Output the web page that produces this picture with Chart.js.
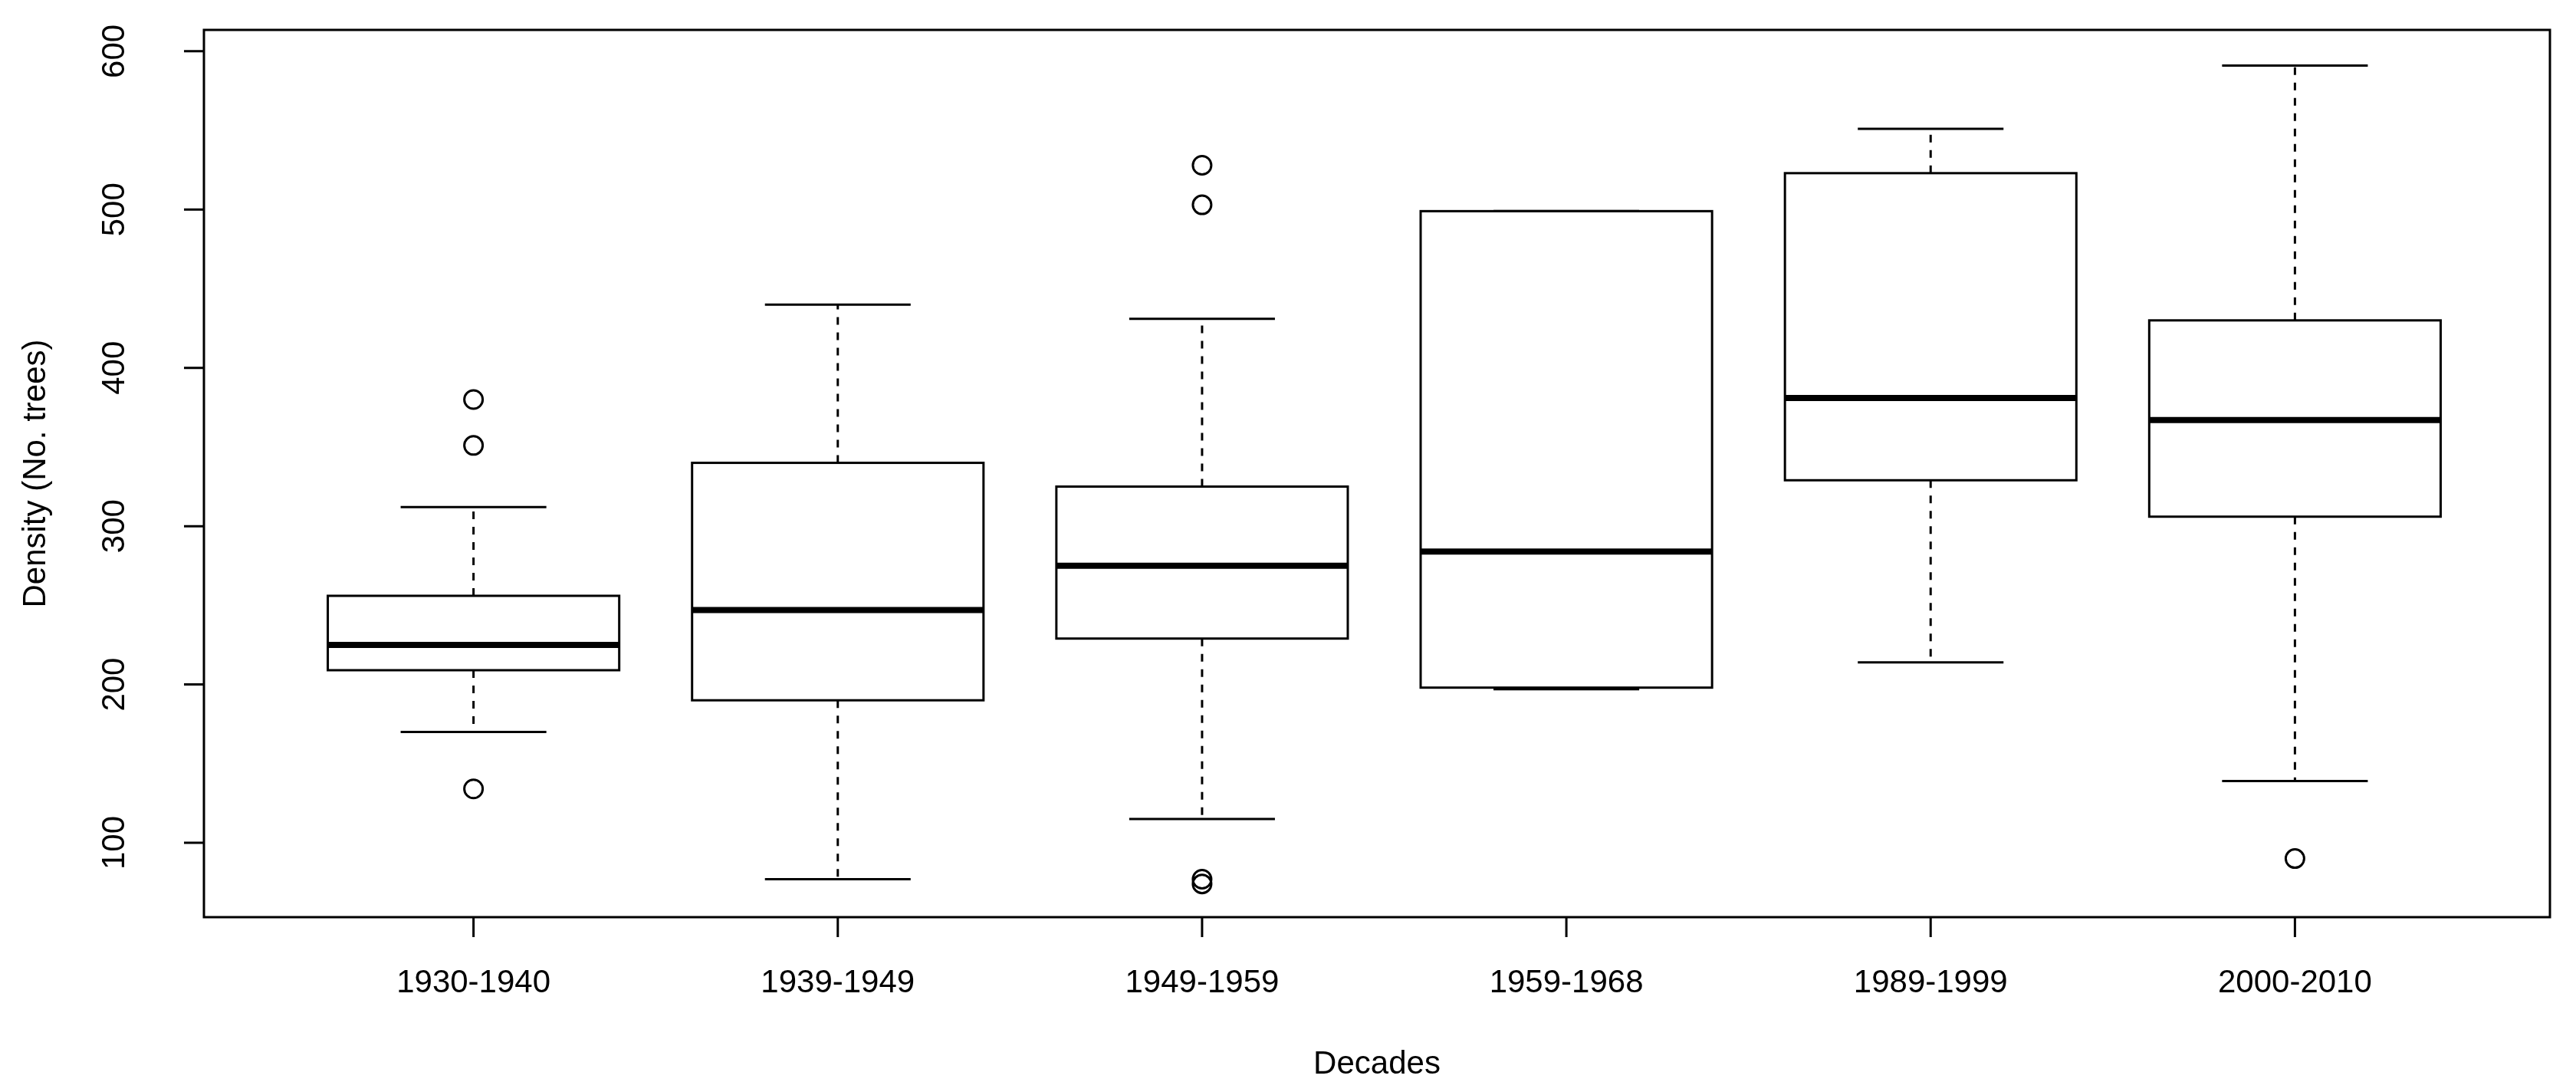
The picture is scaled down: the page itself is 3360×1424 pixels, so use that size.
<!DOCTYPE html>
<html>
<head>
<meta charset="utf-8">
<script src="https://cdn.jsdelivr.net/npm/chart.js@4/dist/chart.umd.min.js"></script>
<style>
  html, body { margin: 0; padding: 0; background: #fff; }
  #wrap { width: 3360px; height: 1424px; }
</style>
</head>
<body>
<div id="wrap"><canvas id="boxChart"></canvas></div>
<script>
// dados
const decades = ['1930-1940', '1939-1949', '1949-1959', '1959-1968', '1989-1999', '2000-2010'];
const whiskerLow = [170, 77, 115, 197, 214, 139];
const q1 = [209, 190, 229, 198, 329, 306];
const median = [225, 247, 275, 284, 381, 367];
const q3 = [256, 340, 325, 499, 523, 430];
const whiskerHigh = [312, 440, 431, 499, 551, 591];
const outliers = [
    [380, 351, 134],
    [],
    [528, 503, 77, 74],
    [],
    [],
    [90]
];
const yTicks = [100, 200, 300, 400, 500, 600];

const FONT = '42px "Liberation Sans", Arial, sans-serif';

const outlierPoints = [];
outliers.forEach((list, i) => list.forEach(v => outlierPoints.push({ x: i, y: v })));

// desenha caixas, eixos e textos no estilo do R
const boxPlugin = {
    id: 'boxPlugin',
    afterDatasetsDraw(chart) {
        const { ctx, chartArea: a, scales: { x, y } } = chart;
        const half = (x.getPixelForValue(0.4) - x.getPixelForValue(0));
        const cap = half / 2;
        ctx.save();
        ctx.strokeStyle = '#000';
        ctx.lineCap = 'butt';
        decades.forEach((_, i) => {
            const cx = x.getPixelForValue(i);
            // bigodes tracejados
            ctx.lineWidth = 3;
            ctx.setLineDash([10, 10]);
            ctx.beginPath();
            ctx.moveTo(cx, y.getPixelForValue(q3[i]));
            ctx.lineTo(cx, y.getPixelForValue(whiskerHigh[i]));
            ctx.moveTo(cx, y.getPixelForValue(q1[i]));
            ctx.lineTo(cx, y.getPixelForValue(whiskerLow[i]));
            ctx.stroke();
            ctx.setLineDash([]);
            ctx.beginPath();
            ctx.moveTo(cx - cap, y.getPixelForValue(whiskerHigh[i]));
            ctx.lineTo(cx + cap, y.getPixelForValue(whiskerHigh[i]));
            ctx.moveTo(cx - cap, y.getPixelForValue(whiskerLow[i]));
            ctx.lineTo(cx + cap, y.getPixelForValue(whiskerLow[i]));
            ctx.stroke();
            // caixa
            const top = y.getPixelForValue(q3[i]);
            const bot = y.getPixelForValue(q1[i]);
            ctx.fillStyle = '#fff';
            ctx.fillRect(cx - half, top, half * 2, bot - top);
            ctx.strokeRect(cx - half, top, half * 2, bot - top);
            // mediana
            ctx.lineWidth = 8;
            ctx.beginPath();
            ctx.moveTo(cx - half, y.getPixelForValue(median[i]));
            ctx.lineTo(cx + half, y.getPixelForValue(median[i]));
            ctx.stroke();
        });

        // moldura
        ctx.lineWidth = 3;
        ctx.strokeRect(a.left, a.top, a.right - a.left, a.bottom - a.top);

        ctx.fillStyle = '#000';
        ctx.font = FONT;
        // eixo x
        ctx.textAlign = 'center';
        ctx.textBaseline = 'middle';
        ctx.beginPath();
        decades.forEach((label, i) => {
            const px = x.getPixelForValue(i);
            ctx.moveTo(px, a.bottom);
            ctx.lineTo(px, a.bottom + 26);
            ctx.fillText(label, px, a.bottom + 86);
        });
        ctx.stroke();
        ctx.fillText('Decades', (a.left + a.right) / 2, 1388);

        // eixo y
        ctx.beginPath();
        yTicks.forEach(v => {
            const py = y.getPixelForValue(v);
            ctx.moveTo(a.left, py);
            ctx.lineTo(a.left - 26, py);
        });
        ctx.stroke();
        yTicks.forEach(v => {
            ctx.save();
            ctx.translate(a.left - 116, y.getPixelForValue(v));
            ctx.rotate(-Math.PI / 2);
            ctx.fillText(String(v), 0, 0);
            ctx.restore();
        });
        ctx.save();
        ctx.translate(47, (a.top + a.bottom) / 2);
        ctx.rotate(-Math.PI / 2);
        ctx.fillText('Density (No. trees)', 0, 0);
        ctx.restore();
        ctx.restore();
    }
};

document.addEventListener('DOMContentLoaded', () => {
    try {
        initChart();
    } catch (error) {
        console.error('Error initializing chart:', error);
    }
});

function initChart() {
    const ctx = document.getElementById('boxChart');
    new Chart(ctx, {
        type: 'scatter',
        data: {
            datasets: [{
                label: 'Outliers',
                data: outlierPoints,
                pointStyle: 'circle',
                pointRadius: 12,
                borderWidth: 3,
                borderColor: '#000',
                backgroundColor: 'rgba(0,0,0,0)'
            }]
        },
        options: {
            responsive: true,
            maintainAspectRatio: false,
            animation: false,
            devicePixelRatio: 1,
            layout: { padding: { left: 266, right: 34, top: 39, bottom: 228 } },
            scales: {
                x: { type: 'linear', min: -0.74, max: 5.70, display: false },
                y: { type: 'linear', min: 53, max: 613.5, display: false }
            },
            plugins: {
                legend: { display: false },
                tooltip: { enabled: false }
            }
        },
        plugins: [boxPlugin]
    });
}
</script>
</body>
</html>
